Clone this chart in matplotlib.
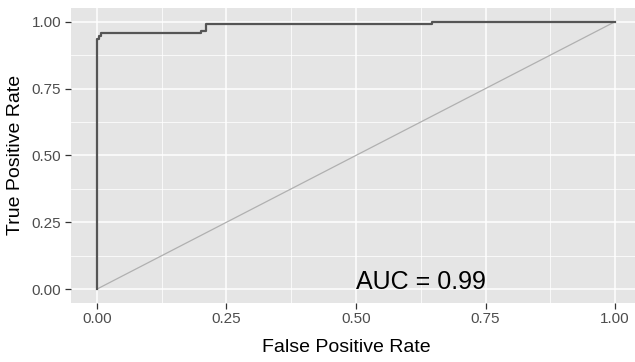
import matplotlib
matplotlib.use("Agg")
import matplotlib.pyplot as plt
import numpy as np

fpr = [0.0, 0.0, 0.004, 0.008, 0.200, 0.210, 0.647, 1.0]
tpr = [0.0, 0.934, 0.945, 0.957, 0.966, 0.990, 1.0, 1.0]
ticks = [0.0, 0.25, 0.5, 0.75, 1.0]
tick_labels = ["0.00", "0.25", "0.50", "0.75", "1.00"]
auc_label = "AUC = 0.99"

plt.rcParams['font.family'] = ['Liberation Sans', 'DejaVu Sans']

fig = plt.figure(figsize=(6.35, 3.62), dpi=100)
ax = fig.add_axes([71/635, 1 - 302.5/362, 570/635, (302.5 - 8.3)/362])
ax.set_facecolor('#E5E5E5')
ax.set_xlim(-0.05, 1.05)
ax.set_ylim(-0.05, 1.05)

minor = [0.125, 0.375, 0.625, 0.875]
ax.set_xticks(ticks)
ax.set_yticks(ticks)
ax.set_xticks(minor, minor=True)
ax.set_yticks(minor, minor=True)
ax.set_xticklabels(tick_labels)
ax.set_yticklabels(tick_labels)
ax.grid(which='major', color='white', linewidth=1.1)
ax.grid(which='minor', color='white', linewidth=0.55)
ax.set_axisbelow(True)
ax.tick_params(which='minor', length=0)
ax.tick_params(which='major', length=4, width=0.9, color='#333333',
               labelsize=11, labelcolor='#4D4D4D', pad=3)
for s in ax.spines.values():
    s.set_visible(False)

ax.plot([0, 1], [0, 1], color='#B0B0B0', linewidth=0.9)
ax.step(fpr, tpr, where='post', color='#555555', linewidth=1.6)

ax.text(0.5, 0.0, auc_label, fontsize=18, color='black', ha='left', va='baseline')

fig.text(346/635, 1 - 352/362, "False Positive Rate", fontsize=14, ha='center', va='baseline')
fig.text(24/635, 1 - 155/362, "True Positive Rate", fontsize=14, ha='right', va='center', rotation=90)

fig.savefig("out.png", dpi=100)
